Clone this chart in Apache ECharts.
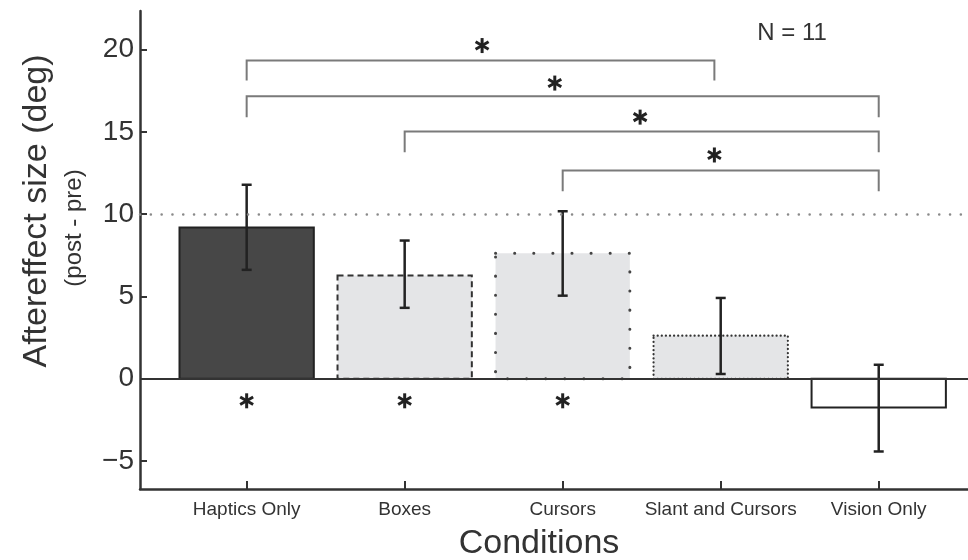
<!DOCTYPE html>
<html>
<head>
<meta charset="utf-8">
<script src="https://cdn.jsdelivr.net/npm/echarts@6/dist/echarts.min.js"></script>
<style>
html,body{margin:0;padding:0;background:#fff;}
#main{width:968px;height:560px;}
</style>
</head>
<body>
<div id="main"></div>
<script>
// ---- data ----
const categories = ['Haptics Only', 'Boxes', 'Cursors', 'Slant and Cursors', 'Vision Only'];
const catPositions = [1, 2, 3, 4, 5];
const means = [9.19, 6.27, 7.62, 2.62, -1.74];
const errLow = [6.62, 4.31, 5.05, 0.29, -4.42];
const errHigh = [11.79, 8.40, 10.18, 4.91, 0.85];
// [from, to, bracket height, leg end]
const brackets = [[1, 3.96, 19.34, 18.13], [1, 5, 17.17, 15.9], [2, 5, 15.02, 13.77], [3, 5, 12.65, 11.4]];
const bracketStars = [[2.49, 20.25], [2.95, 17.97], [3.49, 15.9], [3.96, 13.6]];
const barStars = [[1, -1.34], [2, -1.34], [3, -1.34]];
const yTicks = [-5, 0, 5, 10, 15, 20];
const referenceLevel = 10;
const sampleLabel = 'N = 11';

// ---- styles ----
const BAR_W = 0.85;
const FONT = 'Liberation Sans, Arial, sans-serif';
const barStyles = [
  { fill: '#474747', stroke: '#222', lineWidth: 2, lineDash: null },
  { fill: '#e4e5e7', stroke: '#333', lineWidth: 2, lineDash: [6, 4] },
  { fill: '#e4e5e7', stroke: '#444', lineWidth: 3, lineDash: [0.1, 19], lineCap: 'round' },
  { fill: '#e4e5e7', stroke: '#333', lineWidth: 2.2, lineDash: [0.1, 4], lineCap: 'round' },
  { fill: 'rgba(0,0,0,0)', stroke: '#222', lineWidth: 2, lineDash: null }
];

const chart = echarts.init(document.getElementById('main'), null, { renderer: 'canvas' });

function starShape(cx, cy, r, color) {
  const kids = [];
  [90, 30, 150].forEach(a => {
    const t = a * Math.PI / 180;
    kids.push({
      type: 'line',
      shape: { x1: cx - r * Math.cos(t), y1: cy - r * Math.sin(t), x2: cx + r * Math.cos(t), y2: cy + r * Math.sin(t) },
      style: { stroke: color, lineWidth: 3 }
    });
  });
  return kids;
}

const option = {
  animation: false,
  backgroundColor: '#fff',
  grid: { left: 140, right: 0, top: 11, bottom: 71 },
  xAxis: {
    type: 'value', min: 0.325, max: 5.565,
    axisLine: { show: true, onZero: false, lineStyle: { color: '#333', width: 2.5 } },
    axisTick: { show: true, inside: true, length: 8, customValues: catPositions, lineStyle: { color: '#333', width: 2 } },
    axisLabel: {
      customValues: catPositions, margin: 11, fontSize: 19, color: '#333',
      fontFamily: FONT,
      formatter: v => categories[Math.round(v) - 1] || ''
    },
    splitLine: { show: false }
  },
  yAxis: {
    type: 'value', min: -6.7, max: 22.35,
    axisLine: { show: true, onZero: false, lineStyle: { color: '#333', width: 2.5 } },
    axisTick: { show: true, inside: true, length: 7, customValues: yTicks, lineStyle: { color: '#333', width: 2 } },
    axisLabel: {
      customValues: yTicks, margin: 6, fontSize: 28, color: '#333',
      fontFamily: FONT,
      formatter: v => (v < 0 ? '\u2212' + Math.abs(v) : String(v))
    },
    splitLine: { show: false }
  },
  graphic: [
    { type: 'text', x: 37, y: 211, rotation: Math.PI / 2,
      style: { text: 'Aftereffect size (deg)', fontSize: 34, fill: '#333', fontFamily: FONT, align: 'center', verticalAlign: 'middle' } },
    { type: 'text', x: 74, y: 228, rotation: Math.PI / 2,
      style: { text: '(post - pre)', fontSize: 24, fill: '#333', fontFamily: FONT, align: 'center', verticalAlign: 'middle' } },
    { type: 'text', x: 539, y: 544,
      style: { text: 'Conditions', fontSize: 34, fill: '#333', fontFamily: FONT, align: 'center', verticalAlign: 'middle' } },
    { type: 'text', x: 792, y: 33,
      style: { text: sampleLabel, fontSize: 24, fill: '#333', fontFamily: FONT, align: 'center', verticalAlign: 'middle' } }
  ],
  series: [
    {
      name: 'bars', type: 'custom', z: 2,
      data: catPositions.map((p, i) => [p, means[i]]),
      renderItem: (params, api) => {
        const i = params.dataIndex;
        const x = api.value(0), v = api.value(1);
        const p0 = api.coord([x - BAR_W / 2, Math.max(v, 0)]);
        const p1 = api.coord([x + BAR_W / 2, Math.min(v, 0)]);
        const s = barStyles[i];
        return {
          type: 'rect',
          shape: { x: p0[0], y: p0[1], width: p1[0] - p0[0], height: p1[1] - p0[1] },
          style: { fill: s.fill, stroke: s.stroke, lineWidth: s.lineWidth, lineDash: s.lineDash, lineCap: s.lineCap || 'butt' }
        };
      },
      markLine: {
        silent: true, symbol: 'none', label: { show: false },
        data: [
          { yAxis: referenceLevel, lineStyle: { color: '#8a8a8a', width: 2.5, type: [0.1, 10.7], cap: 'round' } },
          { yAxis: 0, lineStyle: { color: '#333', width: 2, type: 'solid' } }
        ]
      }
    },
    {
      name: 'errors', type: 'custom', z: 4,
      data: catPositions.map((p, i) => [p, errLow[i], errHigh[i]]),
      renderItem: (params, api) => {
        const lo = api.coord([api.value(0), api.value(1)]);
        const hi = api.coord([api.value(0), api.value(2)]);
        const c = 5;
        const st = { stroke: '#222', lineWidth: 2.5 };
        return { type: 'group', children: [
          { type: 'line', shape: { x1: lo[0], y1: lo[1], x2: hi[0], y2: hi[1] }, style: st },
          { type: 'line', shape: { x1: lo[0] - c, y1: lo[1], x2: lo[0] + c, y2: lo[1] }, style: st },
          { type: 'line', shape: { x1: hi[0] - c, y1: hi[1], x2: hi[0] + c, y2: hi[1] }, style: st }
        ] };
      }
    },
    {
      name: 'brackets', type: 'custom', z: 3,
      data: brackets,
      renderItem: (params, api) => {
        const a = api.coord([api.value(0), api.value(2)]);
        const b = api.coord([api.value(1), api.value(2)]);
        const a2 = api.coord([api.value(0), api.value(3)]);
        const b2 = api.coord([api.value(1), api.value(3)]);
        return { type: 'polyline', shape: { points: [a2, a, b, b2] }, style: { fill: null, stroke: '#7a7a7a', lineWidth: 2 } };
      }
    },
    {
      name: 'stars', type: 'custom', z: 5,
      data: bracketStars.concat(barStars),
      renderItem: (params, api) => {
        const p = api.coord([api.value(0), api.value(1)]);
        return { type: 'group', children: starShape(p[0], p[1], 7.5, '#222') };
      }
    }
  ]
};
chart.setOption(option);
</script>
</body>
</html>
